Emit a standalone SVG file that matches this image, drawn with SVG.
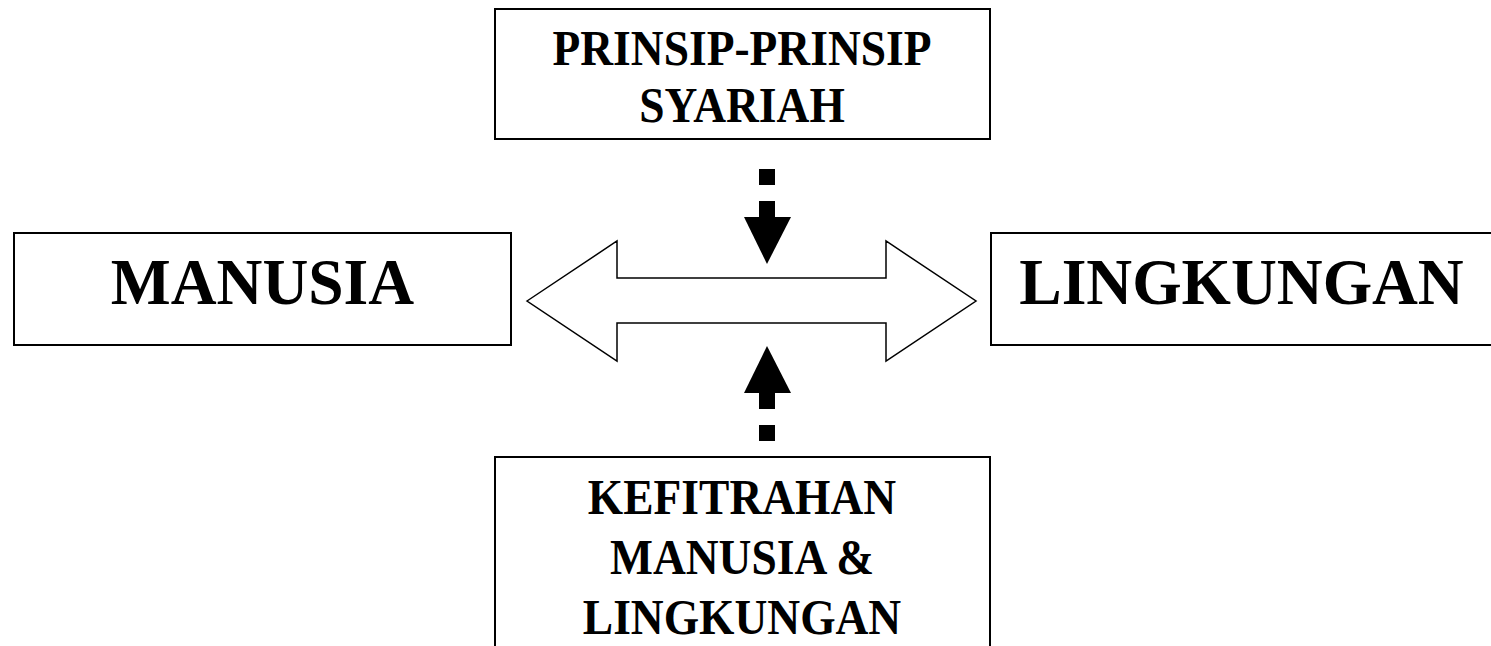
<svg xmlns="http://www.w3.org/2000/svg" width="1491" height="646" viewBox="0 0 1491 646">
  <style>
    .box { fill: #ffffff; stroke: #000000; stroke-width: 2; }
    .lbl { font-family: "Liberation Serif", "Times New Roman", serif; font-weight: bold; fill: #000000; text-anchor: middle; }
    .sm { font-size: 45.5px; }
    .lg { font-size: 63.5px; }
    .dash { stroke: #000000; stroke-width: 16; stroke-dasharray: 16 16; fill: none; }
    .head { fill: #000000; stroke: none; }
    .dbl { fill: #ffffff; stroke: #000000; stroke-width: 1.5; stroke-linejoin: miter; }
  </style>
  <rect x="0" y="0" width="1491" height="646" fill="#ffffff"/>

  <g id="prinsip-syariah">
    <rect class="box" x="495" y="9" width="495" height="130"/>
    <text class="lbl sm" transform="translate(742,65) scale(1,1.1)">PRINSIP-PRINSIP</text>
    <text class="lbl sm" transform="translate(742,122) scale(1,1.1)">SYARIAH</text>
  </g>

  <g id="manusia">
    <rect class="box" x="14" y="233" width="497" height="112"/>
    <text class="lbl lg" transform="translate(262.5,304) scale(1,1.03)">MANUSIA</text>
  </g>

  <g id="lingkungan">
    <rect class="box" x="991" y="233" width="520" height="112"/>
    <text class="lbl lg" transform="translate(1241.5,304) scale(1,1.03)">LINGKUNGAN</text>
  </g>

  <g id="kefitrahan">
    <rect class="box" x="495" y="457" width="495" height="200"/>
    <text class="lbl sm" transform="translate(742,514) scale(1,1.1)">KEFITRAHAN</text>
    <text class="lbl sm" transform="translate(742,574) scale(1,1.1)">MANUSIA &amp;</text>
    <text class="lbl sm" transform="translate(742,634) scale(1,1.1)">LINGKUNGAN</text>
  </g>

  <g id="connectors">
    <!-- two-way block arrow between MANUSIA and LINGKUNGAN -->
    <polygon class="dbl" points="527,301 617,241 617,278 886,278 886,241 976,301 886,361 886,323 617,323 617,361"/>
    <!-- dashed arrow from PRINSIP-PRINSIP SYARIAH down -->
    <line class="dash" x1="767" y1="169" x2="767" y2="217"/>
    <polygon class="head" points="744,217 791,217 767,264"/>
    <!-- dashed arrow from KEFITRAHAN up -->
    <line class="dash" x1="767" y1="441" x2="767" y2="393"/>
    <polygon class="head" points="744,393 791,393 767,346"/>
  </g>
</svg>
